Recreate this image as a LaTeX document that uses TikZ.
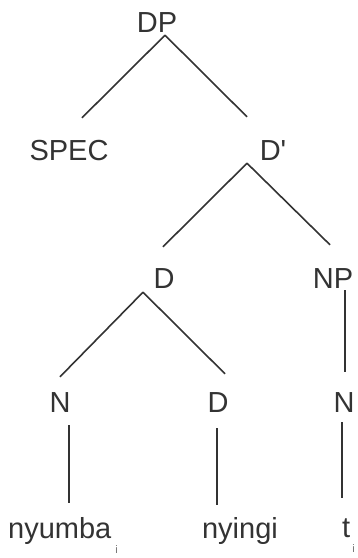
\documentclass[tikz,border=0pt]{standalone}
\usepackage{fontspec}
\setmainfont{Liberation Sans}
\tikzset{
cat/.style={
	inner sep=0pt, anchor=base, text height=20pt, text depth=0pt,
	font=\fontsize{29}{31}\selectfont, text=black!80},
word/.style={cat, text depth=6pt},
branch/.style={draw=black!80, line width=1.6pt}
}
\newcommand{\coidx}{\raisebox{-15pt}{\fontsize{11}{11}\selectfont\color{black!55}i}}

\begin{document}
\begin{tikzpicture}[x=1pt, y=-1pt]
	\useasboundingbox (0,0) rectangle (357,558);
	% category labels
	\node[cat] (dp)   at (157,32)  {DP};
	\node[cat] (spec) at (69,160)  {SPEC};
	\node[cat] (dbar) at (273,160) {D\textquotesingle};
	\node[cat] (d1)   at (164,288) {D};
	\node[cat] (np)   at (333,288) {NP};
	\node[cat] (n1)   at (60,412)  {N};
	\node[cat] (d2)   at (218,412) {D};
	\node[cat] (n2)   at (344,412) {N};
	% words
	\node[word, anchor=base west] (w1) at (8,538)  {nyumba\hspace{4pt}\coidx};
	\node[word]                   (w2) at (240,538) {nyingi};
	\node[word, anchor=base west] (w3) at (342,537) {t\hspace{2pt}\coidx};
	% branches
	\draw[branch] ([shift={(8,3)}]dp.south) -- ([shift={(13,-22)}]spec.north);
	\draw[branch] ([shift={(8,3)}]dp.south) -- ([shift={(-26,-23)}]dbar.north);
	\draw[branch] ([shift={(-26,3)}]dbar.south) -- ([shift={(-1,-21)}]d1.north);
	\draw[branch] ([shift={(-26,3)}]dbar.south) -- ([shift={(-3,-23)}]np.north);
	\draw[branch] ([shift={(-21,4)}]d1.south) -- ([shift={(0,-15)}]n1.north);
	\draw[branch] ([shift={(-21,4)}]d1.south) -- ([shift={(7,-18)}]d2.north);
	\draw[branch] ([shift={(12,2)}]np.south) -- ([shift={(1,-20)}]n2.north);
	\draw[branch] ([shift={(9,13)}]n1.south) -- ([shift={(61,-15)}]w1.north west);
	\draw[branch] ([shift={(-1,16)}]d2.south) -- ([shift={(-23,-13)}]w2.north);
	\draw[branch] ([shift={(-2,10)}]n2.south) -- ([shift={(0,-19)}]w3.north west);
\end{tikzpicture}
\end{document}
